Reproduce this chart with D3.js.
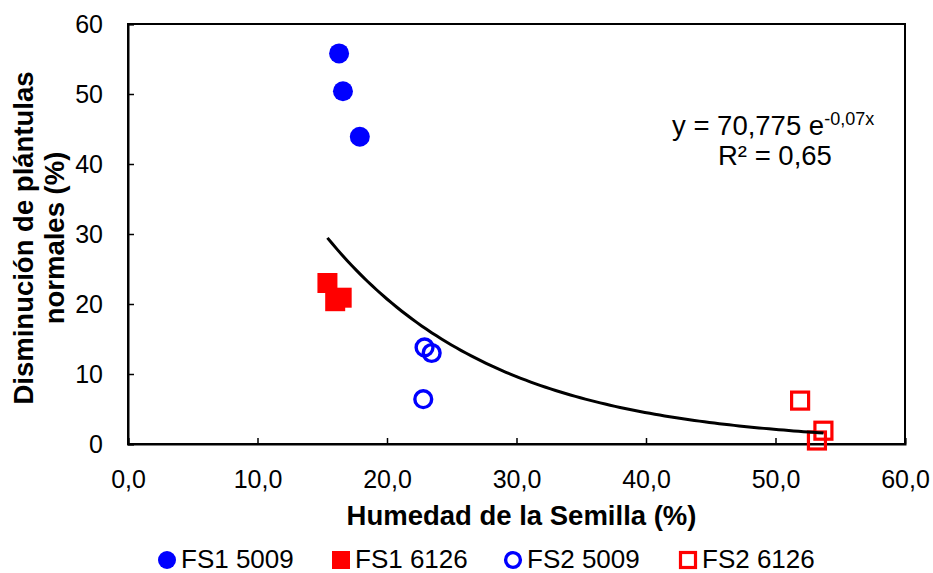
<!DOCTYPE html>
<html>
<head>
<meta charset="utf-8">
<script src="https://cdn.jsdelivr.net/npm/d3@7"></script>
<style>
  body { margin: 0; background: #fff; }
  svg { display: block; font-family: "Liberation Sans", Arial, sans-serif; }
</style>
</head>
<body>
<svg id="chart" width="933" height="573"></svg>
<script>
// series
const seriesNames = ["FS1 5009", "FS1 6126", "FS2 5009", "FS2 6126"];
const fs1_5009_x = [16.3, 16.6, 17.9];
const fs1_5009_y = [55.8, 50.4, 43.9];
const fs1_6126_x = [15.4, 16.5, 16.0];
const fs1_6126_y = [23.0, 20.9, 20.4];
const fs2_5009_x = [22.9, 23.45, 22.8];
const fs2_5009_y = [13.8, 13.0, 6.4];
const fs2_6126_x = [51.9, 53.7, 53.2];
const fs2_6126_y = [6.2, 1.9, 0.5];

const xTicks = [0, 10, 20, 30, 40, 50, 60];
const yTicks = [0, 10, 20, 30, 40, 50, 60];
const eqText = "y = 70,775 e";
const eqSup = "-0,07x";
const r2Text = "R² = 0,65";

const width = 933, height = 573;
const margin = {left: 128, right: 28, top: 24, bottom: 129};

const svg = d3.select("#chart");

const x = d3.scaleLinear().domain([0, 60]).range([margin.left, width - margin.right]);
const y = d3.scaleLinear().domain([0, 60]).range([height - margin.bottom, margin.top]);

const series = [
  {name: seriesNames[0], xs: fs1_5009_x, ys: fs1_5009_y, shape: "circle", filled: true, color: "#0000ff"},
  {name: seriesNames[1], xs: fs1_6126_x, ys: fs1_6126_y, shape: "square", filled: true, color: "#ff0000"},
  {name: seriesNames[2], xs: fs2_5009_x, ys: fs2_5009_y, shape: "circle", filled: false, color: "#0000ff"},
  {name: seriesNames[3], xs: fs2_6126_x, ys: fs2_6126_y, shape: "square", filled: false, color: "#ff0000"}
];

// plot box
svg.append("rect")
  .attr("x", x(0)).attr("y", y(60))
  .attr("width", x(60) - x(0)).attr("height", y(0) - y(60))
  .attr("fill", "none").attr("stroke", "#000").attr("stroke-width", 2);

// axes (ticks inside)
const xAxis = svg.append("g")
  .attr("transform", `translate(0,${y(0)})`)
  .call(d3.axisBottom(x).tickValues(xTicks).tickSize(-6).tickPadding(35)
    .tickFormat(d => d3.format(".1f")(d).replace(".", ",")));
const yAxis = svg.append("g")
  .attr("transform", `translate(${x(0)},0)`)
  .call(d3.axisLeft(y).tickValues(yTicks).tickSize(-6).tickPadding(25));
[xAxis, yAxis].forEach(g => {
  g.select(".domain").attr("stroke-width", 2);
  g.selectAll(".tick line").attr("stroke-width", 1.5);
  g.selectAll("text").attr("font-size", 25).attr("fill", "#000")
    .attr("font-family", "'Liberation Sans', Arial, sans-serif");
});
xAxis.selectAll("text").attr("dy", "0.35em");

// axis titles
svg.append("text")
  .attr("x", (x(0) + x(60)) / 2 + 5).attr("y", 525)
  .attr("text-anchor", "middle").attr("font-size", 27.5).attr("font-weight", "bold")
  .text("Humedad de la Semilla (%)");
const yt = svg.append("text")
  .attr("transform", `translate(0,${(y(0) + y(60)) / 2 + 4}) rotate(-90)`)
  .attr("text-anchor", "middle").attr("font-size", 27.5).attr("font-weight", "bold");
yt.append("tspan").attr("x", 0).attr("y", 33).text("Disminución de plántulas");
yt.append("tspan").attr("x", 0).attr("y", 64).text("normales (%)");

// markers
function drawMarker(g, s, cx, cy, size) {
  if (s.shape === "circle") {
    g.append("circle").attr("cx", cx).attr("cy", cy)
      .attr("r", s.filled ? size / 2 : size / 2 - 1.6)
      .attr("fill", s.filled ? s.color : "none")
      .attr("stroke", s.filled ? "none" : s.color).attr("stroke-width", 3.4);
  } else {
    const side = s.filled ? size : size - 3;
    g.append("rect").attr("x", cx - side / 2).attr("y", cy - side / 2)
      .attr("width", side).attr("height", side)
      .attr("fill", s.filled ? s.color : "none")
      .attr("stroke", s.filled ? "none" : s.color).attr("stroke-width", 3.2);
  }
}

const pts = svg.append("g");
series.forEach(s => {
  s.xs.forEach((xv, i) => drawMarker(pts, s, x(xv), y(s.ys[i]), 20));
});

// exponential trendline fitted on all points (least squares on ln y)
const allX = series.flatMap(s => s.xs);
const allY = series.flatMap(s => s.ys);
const mx = d3.mean(allX), my = d3.mean(allY, v => Math.log(v));
const b = d3.sum(allX, (v, i) => (v - mx) * (Math.log(allY[i]) - my)) /
          d3.sum(allX, v => (v - mx) ** 2);
const a = Math.exp(my - b * mx);
const [x0, x1] = d3.extent(allX);
const curveX = d3.range(0, 101).map(i => x0 + (x1 - x0) * i / 100);
svg.append("path")
  .datum(curveX)
  .attr("fill", "none").attr("stroke", "#000").attr("stroke-width", 3)
  .attr("d", d3.line().x(d => x(d)).y(d => y(a * Math.exp(b * d))));

// equation label
const eq = svg.append("text").attr("x", 672).attr("y", 135).attr("font-size", 27.5);
eq.append("tspan").text(eqText);
eq.append("tspan").attr("dy", -10).attr("font-size", 18).text(eqSup);
svg.append("text").attr("x", 718).attr("y", 165).attr("font-size", 27.5).text(r2Text);

// legend
const legendX = [167, 341, 513, 688];
const leg = svg.append("g");
series.forEach((s, i) => {
  drawMarker(leg, s, legendX[i], 560, 18);
  leg.append("text").attr("x", legendX[i] + 14).attr("y", 568)
    .attr("font-size", 26).text(s.name);
});
</script>
</body>
</html>
